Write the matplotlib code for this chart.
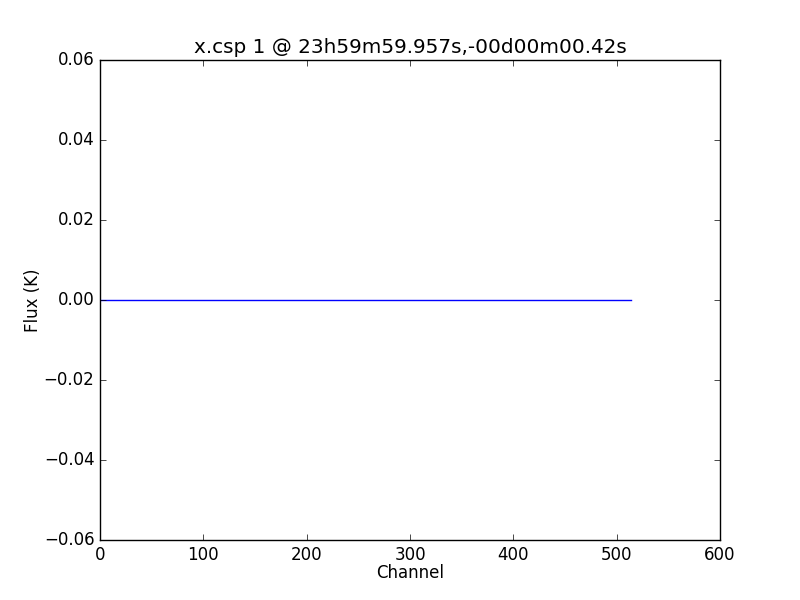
import numpy as np
import matplotlib
matplotlib.use('Agg')
import matplotlib.pyplot as plt

plt.style.use('classic')

# spectrum data: 515 channels, all flux zero
channels = np.arange(515)
flux = np.zeros(len(channels))

title = 'x.csp 1 @ 23h59m59.957s,-00d00m00.42s'

fig = plt.figure(figsize=(8, 6), facecolor='white')
ax = fig.add_subplot(111)

ax.plot(channels, flux, color='b')

ax.set_xlim(0, 600)
ax.set_ylim(-0.06, 0.06)
ax.set_xlabel('Channel', labelpad=0)
ax.set_ylabel('Flux (K)', labelpad=1)
ax.set_title(title)

plt.savefig('out.png', dpi=100, facecolor='white')
